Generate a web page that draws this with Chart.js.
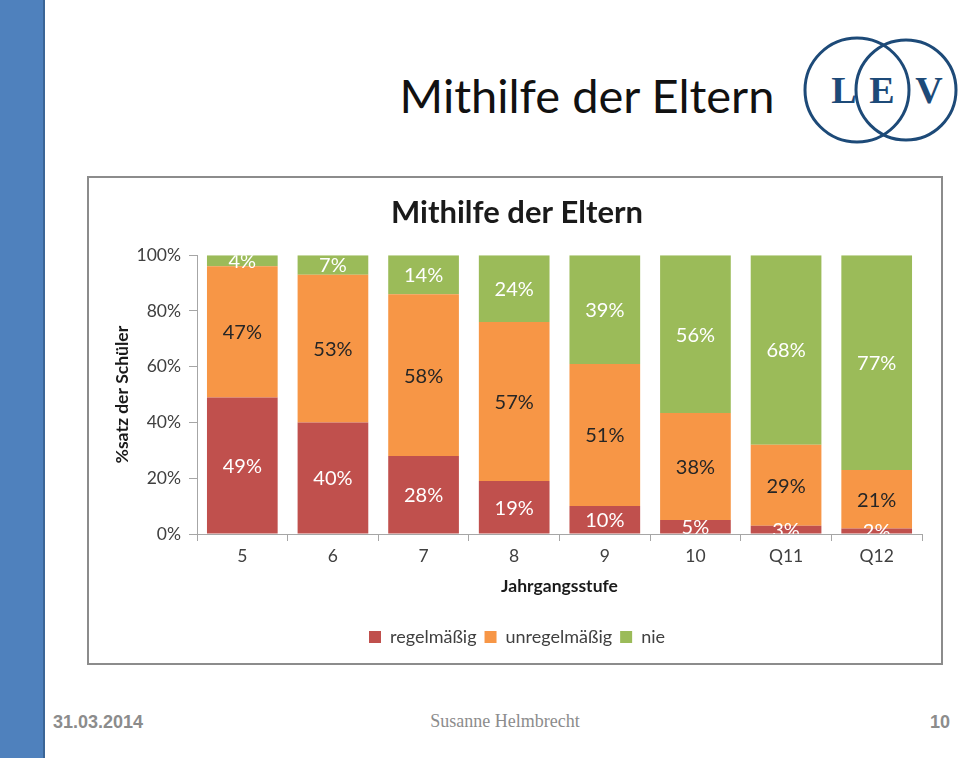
<!DOCTYPE html>
<html>
<head>
<meta charset="utf-8">
<script src="https://cdn.jsdelivr.net/npm/chart.js@4/dist/chart.umd.min.js"></script>
<style>
  html, body { margin:0; padding:0; background:#fff; }
  body { width:960px; height:758px; position:relative; overflow:hidden; }
  #bar { position:absolute; left:0; top:0; width:43px; height:758px; background:#4f81bd; border-right:2px solid #3b6596; }
  #title { position:absolute; left:340px; width:494px; top:65px; text-align:center; font-family:Lato, "Open Sans", sans-serif; font-size:47px; color:#111; line-height:60px; }
  #logo { position:absolute; left:800px; top:36px; }
  #box { position:absolute; left:87px; top:176px; width:852px; height:485px; border:2px solid #8c8c8c; }
  #date { position:absolute; left:53px; top:712px; font-family:"Liberation Sans", Arial, sans-serif; font-weight:bold; font-size:18px; color:#8c8c8c; }
  #author { position:absolute; left:380px; width:250px; top:711px; text-align:center; font-family:"Liberation Serif", serif; font-size:18px; color:#8c8c8c; }
  #page { position:absolute; left:900px; width:50px; top:712px; text-align:right; font-family:"Liberation Sans", Arial, sans-serif; font-weight:bold; font-size:18px; color:#8c8c8c; }
</style>
</head>
<body>
<div id="bar"></div>
<div id="title">Mithilfe der Eltern</div>
<svg id="logo" width="160" height="110" viewBox="0 0 160 110">
  <circle cx="57" cy="54" r="52" fill="none" stroke="#1d4a78" stroke-width="3"/>
  <circle cx="106" cy="54" r="50" fill="none" stroke="#1d4a78" stroke-width="3"/>
  <text x="44" y="67" text-anchor="middle" font-family="Liberation Serif, serif" font-weight="bold" font-size="38" fill="#1d4a78">L</text>
  <text x="82" y="67" text-anchor="middle" font-family="Liberation Serif, serif" font-weight="bold" font-size="38" fill="#1d4a78">E</text>
  <text x="129" y="67" text-anchor="middle" font-family="Liberation Serif, serif" font-weight="bold" font-size="38" fill="#1d4a78">V</text>
</svg>
<div id="box"><canvas id="c" width="852" height="485"></canvas></div>
<div id="date">31.03.2014</div>
<div id="author">Susanne Helmbrecht</div>
<div id="page">10</div>

<script>
const categories = ['5', '6', '7', '8', '9', '10', 'Q11', 'Q12'];
const regelmaessig = [49, 40, 28, 19, 10, 5, 3, 2];
const unregelmaessig = [47, 53, 58, 57, 51, 38, 29, 21];
const nie = [4, 7, 14, 24, 39, 56, 68, 77];
const yTicks = [0, 20, 40, 60, 80, 100];

const series = [
  { label: 'regelmäßig', raw: regelmaessig, color: '#c0504d', textColor: '#ffffff' },
  { label: 'unregelmäßig', raw: unregelmaessig, color: '#f79646', textColor: '#262626' },
  { label: 'nie', raw: nie, color: '#9bbb59', textColor: '#ffffff' }
];
// 100% stacked: normalise each category to its total
const totals = categories.map((_, j) => series.reduce((s, d) => s + d.raw[j], 0));

const FONT = 'Lato, "Open Sans", sans-serif';

const labelPlugin = {
  id: 'segLabels',
  afterDatasetsDraw(chart) {
    const ctx = chart.ctx;
    const a = chart.chartArea;
    ctx.save();
    ctx.beginPath();
    ctx.rect(a.left, a.top, a.right - a.left, a.bottom - a.top);
    ctx.clip();
    ctx.font = '20px ' + FONT;
    ctx.textAlign = 'center';
    ctx.textBaseline = 'middle';
    chart.data.datasets.forEach((ds, i) => {
      const meta = chart.getDatasetMeta(i);
      meta.data.forEach((bar, j) => {
        const p = bar.getProps(['x', 'y', 'base'], true);
        ctx.fillStyle = series[i].textColor;
        ctx.fillText(series[i].raw[j] + '%', p.x, (p.y + p.base) / 2 + 1);
      });
    });
    ctx.restore();
  }
};

new Chart(document.getElementById('c'), {
  type: 'bar',
  data: {
    labels: categories,
    datasets: series.map(s => ({
      label: s.label,
      data: s.raw.map((v, j) => v / totals[j] * 100),
      backgroundColor: s.color,
      borderWidth: 0,
      categoryPercentage: 0.78,
      barPercentage: 1.0
    }))
  },
  options: {
    responsive: false,
    animation: false,
    layout: { padding: { left: 23, right: 19, top: 0, bottom: 7 } },
    plugins: {
      tooltip: { enabled: false },
      title: {
        display: true,
        text: 'Mithilfe der Eltern',
        color: '#1a1a1a',
        font: { family: FONT, size: 31, weight: 'bold', lineHeight: 1.2 },
        padding: { top: 16, bottom: 24 }
      },
      legend: {
        position: 'bottom',
        labels: {
          color: '#404040',
          font: { family: FONT, size: 18 },
          boxWidth: 12,
          boxHeight: 12,
          padding: 8
        }
      }
    },
    scales: {
      x: {
        stacked: true,
        grid: { display: true, drawOnChartArea: false, drawTicks: true, tickLength: 7, color: '#a6a6a6', offset: true },
        border: { display: true, color: '#a6a6a6', width: 1 },
        ticks: { color: '#404040', font: { family: FONT, size: 17.5 }, padding: 5, maxRotation: 0 },
        title: { display: true, text: 'Jahrgangsstufe', color: '#1a1a1a', font: { family: FONT, size: 17.5, weight: 'bold', lineHeight: 1.2 }, padding: { top: 0, bottom: 23.5 } },
        afterFit(scale) { scale.height = 86; }
      },
      y: {
        stacked: true,
        min: 0,
        max: 100,
        afterBuildTicks(scale) { scale.ticks = yTicks.map(v => ({ value: v })); },
        grid: { display: true, drawOnChartArea: false, drawTicks: true, tickLength: 8, color: '#a6a6a6' },
        border: { display: true, color: '#a6a6a6', width: 1 },
        ticks: { color: '#404040', font: { family: FONT, size: 17.5 }, padding: 8, callback: v => v + '%' },
        title: { display: true, text: '%satz der Schüler', color: '#1a1a1a', font: { family: FONT, size: 17.5, weight: 'bold', lineHeight: 1.2 }, padding: { top: 0, bottom: 0 } },
        afterFit(scale) { scale.width = 85; }
      }
    }
  },
  plugins: [labelPlugin]
});
</script>
</body>
</html>
